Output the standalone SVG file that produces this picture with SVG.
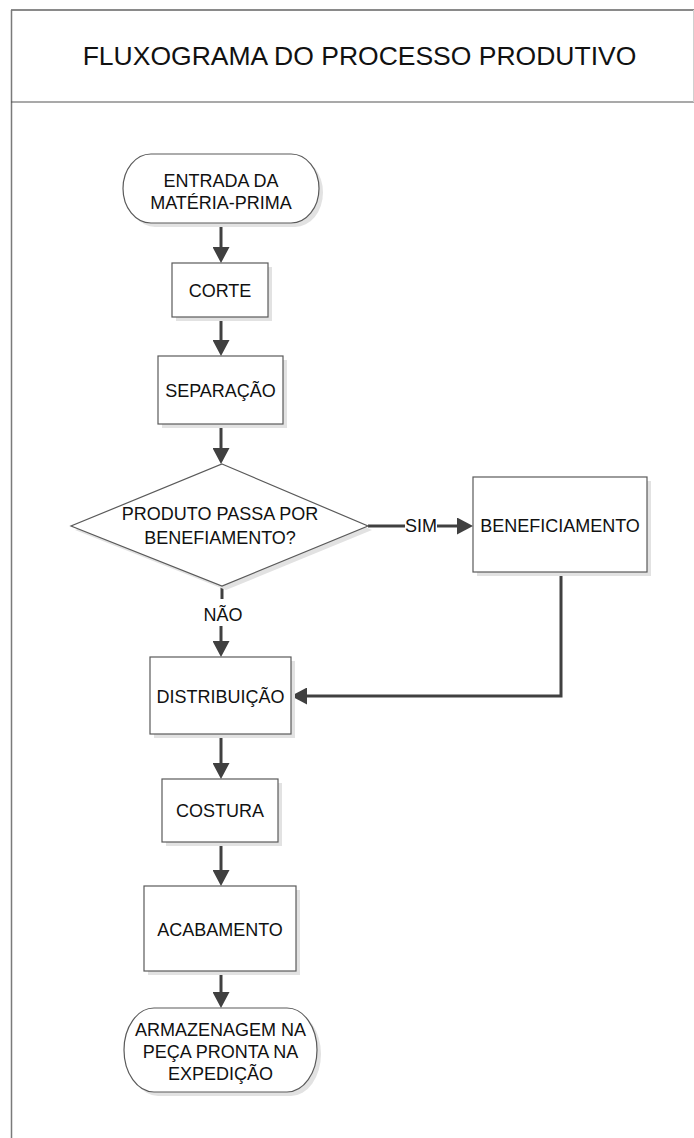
<svg xmlns="http://www.w3.org/2000/svg" width="694" height="1138" viewBox="0 0 694 1138">
  <style>
    .frame { fill: none; }
    .shape { fill: #ffffff; stroke: #5a5a5a; stroke-width: 1.2; }
    .shadow { fill: #e2e2e2; stroke: none; }
    .label { font-family: "Liberation Sans", Arial, sans-serif; font-size: 18px; fill: #111111; text-anchor: middle; }
    .title { font-family: "Liberation Sans", Arial, sans-serif; font-size: 26.5px; fill: #111111; text-anchor: middle; }
    .conn { fill: none; stroke: #404040; stroke-width: 3; }
  </style>
  <defs>
    <marker id="arrow" markerUnits="userSpaceOnUse" viewBox="0 0 16 17" markerWidth="16" markerHeight="17" refX="0" refY="8.5" orient="auto">
      <path d="M0,0 L16,8.5 L0,17 Z" fill="#404040"/>
    </marker>
  </defs>

  <rect width="694" height="1138" fill="#ffffff"/>

  <!-- page frame and title band -->
  <g id="frame">
    <line x1="11" y1="10" x2="694" y2="10" stroke="#8a8a8a" stroke-width="2"/>
    <line x1="11.5" y1="10" x2="11.5" y2="1138" stroke="#7a7a7a" stroke-width="1.5"/>
    <line x1="11" y1="102" x2="694" y2="102" stroke="#555555" stroke-width="1.2"/>
    <line x1="693.5" y1="10" x2="693.5" y2="102" stroke="#d0d0d0" stroke-width="1"/>
    <text class="title" x="359.5" y="65">FLUXOGRAMA DO PROCESSO PRODUTIVO</text>
  </g>

  <!-- connectors -->
  <g id="connectors">
    <path class="conn" d="M221,223 V247" marker-end="url(#arrow)"/>
    <path class="conn" d="M221,317 V340" marker-end="url(#arrow)"/>
    <path class="conn" d="M221,424 V448" marker-end="url(#arrow)"/>
    <path class="conn" d="M368,526 H405"/>
    <path class="conn" d="M437,526 H457" marker-end="url(#arrow)"/>
    <path class="conn" d="M222,586 V599"/>
    <path class="conn" d="M221,626 V641" marker-end="url(#arrow)"/>
    <path class="conn" d="M561,572 V696 H307" marker-end="url(#arrow)"/>
    <path class="conn" d="M221,734 V763" marker-end="url(#arrow)"/>
    <path class="conn" d="M221,842 V870" marker-end="url(#arrow)"/>
    <path class="conn" d="M221,971 V992" marker-end="url(#arrow)"/>
    <text class="label" x="421" y="532">SIM</text>
    <text class="label" x="223" y="621">NÃO</text>
  </g>

  <!-- start terminator -->
  <g id="entrada">
    <path class="shadow" transform="translate(4,4)" d="M151,154 H291 A28,34.5 0 0 1 291,223 H151 A28,34.5 0 0 1 151,154 Z"/>
    <path class="shape" d="M151,154 H291 A28,34.5 0 0 1 291,223 H151 A28,34.5 0 0 1 151,154 Z"/>
    <text class="label" x="221" y="186.5">ENTRADA DA</text>
    <text class="label" x="221" y="208.5">MATÉRIA-PRIMA</text>
  </g>

  <g id="corte">
    <rect class="shadow" x="176" y="267" width="96" height="54"/>
    <rect class="shape" x="172" y="263" width="96" height="54"/>
    <text class="label" x="220" y="296.5">CORTE</text>
  </g>

  <g id="separacao">
    <rect class="shadow" x="162" y="360" width="125" height="68"/>
    <rect class="shape" x="158" y="356" width="125" height="68"/>
    <text class="label" x="220.5" y="396.5">SEPARAÇÃO</text>
  </g>

  <!-- decision -->
  <g id="decisao">
    <polygon class="shadow" transform="translate(4,4)" points="222,464 368,526 222,586 71,526"/>
    <polygon class="shape" points="222,464 368,526 222,586 71,526"/>
    <text class="label" x="220" y="519.5">PRODUTO PASSA POR</text>
    <text class="label" x="220" y="543.5">BENEFIAMENTO?</text>
  </g>

  <g id="beneficiamento">
    <rect class="shadow" x="477" y="481" width="174" height="95"/>
    <rect class="shape" x="473" y="477" width="174" height="95"/>
    <text class="label" x="560" y="531.5">BENEFICIAMENTO</text>
  </g>

  <g id="distribuicao">
    <rect class="shadow" x="154" y="661" width="141" height="77"/>
    <rect class="shape" x="150" y="657" width="141" height="77"/>
    <text class="label" x="220.5" y="702.5">DISTRIBUIÇÃO</text>
  </g>

  <g id="costura">
    <rect class="shadow" x="166" y="783" width="116" height="63"/>
    <rect class="shape" x="162" y="779" width="116" height="63"/>
    <text class="label" x="220" y="817">COSTURA</text>
  </g>

  <g id="acabamento">
    <rect class="shadow" x="148" y="890" width="152" height="85"/>
    <rect class="shape" x="144" y="886" width="152" height="85"/>
    <text class="label" x="220" y="935.5">ACABAMENTO</text>
  </g>

  <!-- end terminator -->
  <g id="armazenagem">
    <path class="shadow" transform="translate(4,4)" d="M154,1008 H287 A30,42 0 0 1 287,1092 H154 A30,42 0 0 1 154,1008 Z"/>
    <path class="shape" d="M154,1008 H287 A30,42 0 0 1 287,1092 H154 A30,42 0 0 1 154,1008 Z"/>
    <text class="label" x="220.5" y="1035.5">ARMAZENAGEM NA</text>
    <text class="label" x="220.5" y="1058">PEÇA PRONTA NA</text>
    <text class="label" x="220.5" y="1080">EXPEDIÇÃO</text>
  </g>
</svg>
